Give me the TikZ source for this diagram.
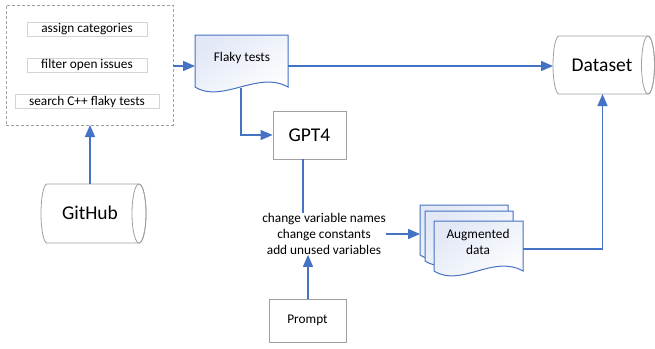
\documentclass[tikz,border=0pt]{standalone}
\usepackage{fontspec}
\setmainfont{Carlito}
\usetikzlibrary{arrows.meta,calc}
\definecolor{cblue}{HTML}{4472C4}
\definecolor{cgray}{HTML}{A0A0A0}
\definecolor{clight}{HTML}{D4D4D4}
\definecolor{cfill}{HTML}{E2E8F6}
\tikzset{
  conn/.style={draw=cblue, line width=1.4pt},
  arr/.style={conn, -{Triangle[length=12pt,width=10pt]}},
  small/.style={font=\fontsize{13.3}{16}\selectfont},
  big/.style={font=\fontsize{19.5}{23}\selectfont},
  ghost/.style={inner sep=0, outer sep=0, draw=none},
  graybox/.style={draw=cgray, line width=0.8pt, fill=white, inner sep=0},
  itembox/.style={draw=clight, line width=0.8pt, inner sep=0, small, minimum height=14pt},
  docshape/.style={draw=cblue, line width=1pt, top color=cfill, bottom color=white, shading angle=35},
  cyl/.style={draw=cgray, line width=0.8pt, fill=white},
}
\newcommand\docu[4]{\path[docshape] (#1,#2) -- ++(#3,0) -- ++(0,#4) .. controls +(-30,-17) and +(27,17) .. ++(-#3,0) -- cycle;}
\begin{document}
\begin{tikzpicture}[x=1pt,y=-1pt]
\useasboundingbox[fill=white] (0,0) rectangle (655,348);

% source box with steps
\node[ghost, draw=cgray, line width=0.8pt, dash pattern=on 3pt off 2pt, minimum width=167pt, minimum height=120pt] (src) at (89.5,65) {};
\node[itembox, minimum width=120pt] (s1) at (87,29) {assign categories};
\node[itembox, minimum width=120pt] (s2) at (87,65) {filter open issues};
\node[itembox, minimum width=144pt] (s3) at (87,101.5) {search C++ flaky tests};

% GitHub cylinder
\path[cyl] (139,184) -- (47,184) arc[start angle=270,end angle=90,x radius=6,y radius=29.5] -- (139,243) arc[start angle=90,end angle=-90,x radius=7,y radius=29.5] -- cycle;
\draw[cgray, line width=0.8pt] (139,213.5) ellipse[x radius=7, y radius=29.5];
\node[ghost, minimum width=92pt, minimum height=59pt] (github) at (90,213.5) {};
\node[big] (githubt) at (90,213) {GitHub};

% Dataset cylinder
\path[cyl] (648,36) -- (559,36) arc[start angle=270,end angle=90,x radius=6,y radius=29] -- (648,94) arc[start angle=90,end angle=-90,x radius=6.5,y radius=29] -- cycle;
\draw[cgray, line width=0.8pt] (648,65) ellipse[x radius=6.5, y radius=29];
\node[ghost, minimum width=99pt, minimum height=58pt] (dataset) at (602.5,65) {};
\node[big] (datasett) at (602,65) {Dataset};

% Flaky tests document
\node[ghost, minimum width=93pt, minimum height=52pt] (flaky) at (241.5,61) {};
\docu{195}{35}{93}{52}
\node[small] (flakyt) at (242,58) {Flaky tests};

% GPT4 and Prompt
\node[graybox, big, minimum width=73pt, minimum height=48pt] (gpt) at (309.5,135) {GPT4};
\node[graybox, small, minimum width=77pt, minimum height=43pt] (prompt) at (307.5,320.5) {Prompt};

% operations text
\node[small, align=center, inner sep=0] (ops) at (324,234) {change variable names\\change constants\\add unused variables};

% Augmented data stack
\node[ghost, minimum width=88pt, minimum height=50pt] (augb) at (464,230) {};
\node[ghost, minimum width=89pt, minimum height=50pt] (augf) at (478.5,246) {};
\docu{420}{205}{88}{50}
\docu{425}{211}{88}{50}
\docu{434}{221}{89}{50}
\node[small, align=center] (augt) at (478,242) {Augmented\\data};

% helper coordinates
\coordinate (ay) at (0,66);
\coordinate (fx) at (241,88);
\coordinate (gx) at (303,0);
\coordinate (px) at (308,0);
\coordinate (ry) at (0,249);

% connectors
\draw[arr] (src.east |- ay) -- (flaky.west |- ay);
\draw[arr] (flaky.east |- ay) -- (dataset.west |- ay);
\draw[arr] (fx) |- (gpt.west);
\draw[conn] (gpt.south -| gx) -- (ops.north -| gx);
\draw[arr] (prompt.north -| px) -- (ops.south -| px);
\draw[arr] (ops.east) -- (ops.east -| augb.west);
\draw[arr] (augf.east |- ry) -| (dataset.south);
\draw[arr] (github.north) -- (github.north |- src.south);
\end{tikzpicture}
\end{document}
